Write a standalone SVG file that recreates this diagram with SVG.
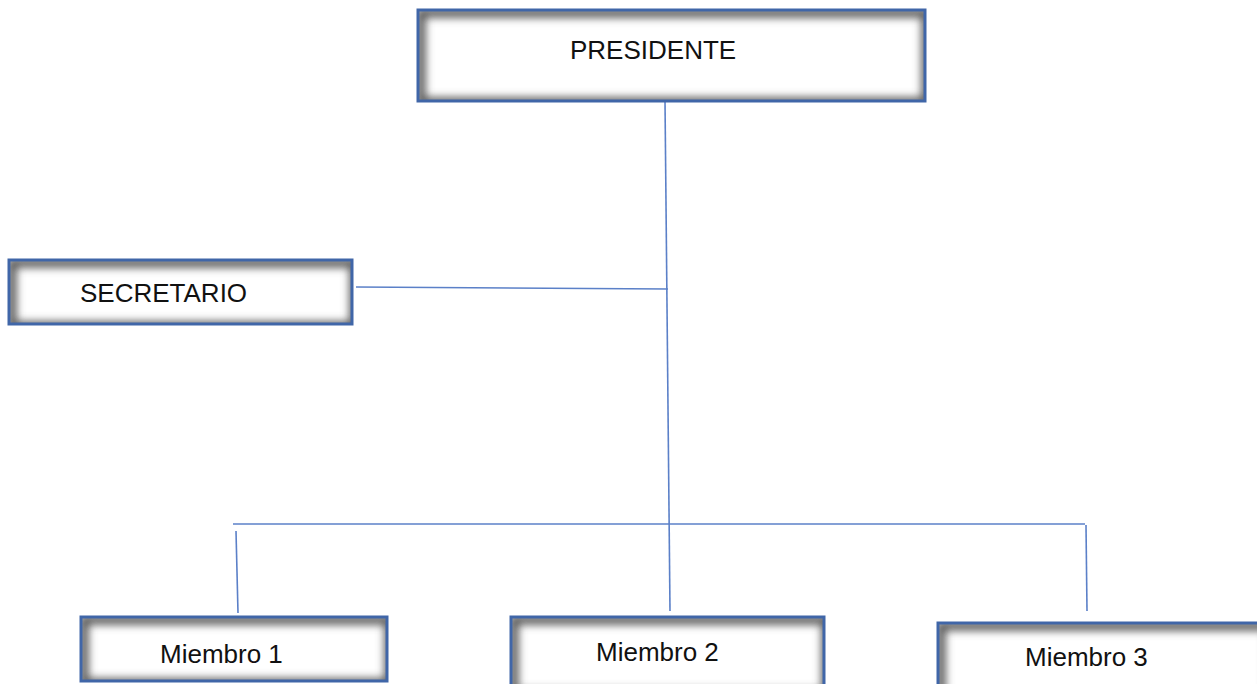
<svg xmlns="http://www.w3.org/2000/svg" width="1257" height="684" viewBox="0 0 1257 684">
<defs>
<filter id="blur" x="-10%" y="-30%" width="120%" height="160%">
<feGaussianBlur stdDeviation="4"/>
</filter>
<clipPath id="cp0"><rect x="418" y="10" width="507" height="91"/></clipPath>
<clipPath id="cp1"><rect x="9" y="260" width="343" height="64"/></clipPath>
<clipPath id="cp2"><rect x="81" y="617" width="306" height="64"/></clipPath>
<clipPath id="cp3"><rect x="511" y="617" width="313" height="75"/></clipPath>
<clipPath id="cp4"><rect x="938" y="623" width="330" height="75"/></clipPath>
</defs>
<style>
.bg{fill:#fff}
.sh{fill:none;stroke:#555;stroke-width:9}
.bd{fill:none;stroke:#4066a8;stroke-width:3}
.t{font-family:"Liberation Sans",Arial,sans-serif;font-size:26px;fill:#111}
.c{fill:none;stroke:#5b80c8;stroke-width:1.6}
</style>
<rect width="1257" height="684" fill="#fff"/>
<g id="connectors">
<line class="c" x1="665" y1="101" x2="670" y2="611"/>
<line class="c" x1="356" y1="287" x2="668" y2="289"/>
<line class="c" x1="233" y1="524" x2="1085" y2="524"/>
<line class="c" x1="236" y1="531" x2="238" y2="613"/>
<line class="c" x1="1086" y1="525" x2="1087" y2="611"/>
</g>
<g id="presidente">
<rect class="bg" x="418" y="10" width="507" height="91"/>
<g clip-path="url(#cp0)"><rect class="sh" filter="url(#blur)" x="421" y="13" width="505" height="89"/></g>
<rect class="bd" x="418" y="10" width="507" height="91"/>
<text class="t" x="570" y="59">PRESIDENTE</text>
</g>
<g id="secretario">
<rect class="bg" x="9" y="260" width="343" height="64"/>
<g clip-path="url(#cp1)"><rect class="sh" filter="url(#blur)" x="12" y="263" width="342" height="63"/></g>
<rect class="bd" x="9" y="260" width="343" height="64"/>
<text class="t" x="80" y="302">SECRETARIO</text>
</g>
<g id="miembro1">
<rect class="bg" x="81" y="617" width="306" height="64"/>
<g clip-path="url(#cp2)"><rect class="sh" filter="url(#blur)" x="84" y="620" width="305" height="63"/></g>
<rect class="bd" x="81" y="617" width="306" height="64"/>
<text class="t" x="160" y="663">Miembro 1</text>
</g>
<g id="miembro2">
<rect class="bg" x="511" y="617" width="313" height="75"/>
<g clip-path="url(#cp3)"><rect class="sh" filter="url(#blur)" x="514" y="620" width="312" height="74"/></g>
<rect class="bd" x="511" y="617" width="313" height="75"/>
<text class="t" x="596" y="661">Miembro 2</text>
</g>
<g id="miembro3">
<rect class="bg" x="938" y="623" width="330" height="75"/>
<g clip-path="url(#cp4)"><rect class="sh" filter="url(#blur)" x="941" y="626" width="329" height="74"/></g>
<rect class="bd" x="938" y="623" width="330" height="75"/>
<text class="t" x="1025" y="666">Miembro 3</text>
</g>
</svg>
